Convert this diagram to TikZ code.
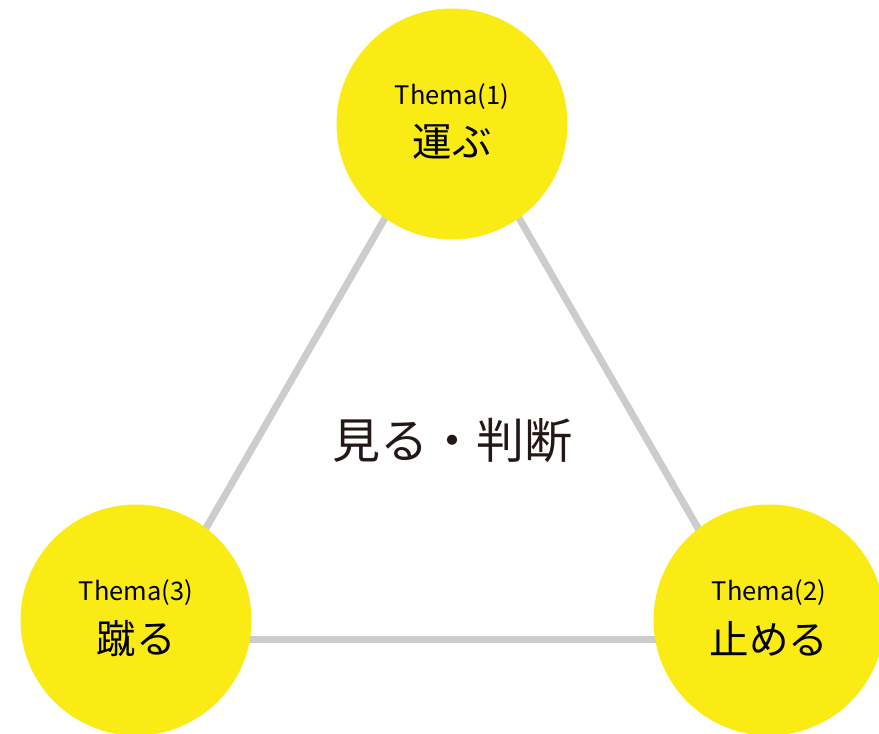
\documentclass[tikz,border=0pt]{standalone}
\usepackage{fontspec}
\setmainfont{Noto Sans CJK JP}
\newfontfamily\jpfont{Noto Sans CJK JP}
\definecolor{themeyellow}{HTML}{FAEB14}
\definecolor{linegray}{HTML}{CCCCCC}
\definecolor{textdark}{HTML}{231815}
\begin{document}
\begin{tikzpicture}[x=1pt,y=-1pt,
  topic/.style={circle,fill=themeyellow,draw=none,minimum size=231pt,inner sep=0pt},
  linkline/.style={draw=linegray,line width=7pt},
  themelabel/.style={font=\jpfont\fontsize{25.5}{30}\selectfont,text=black,inner sep=0pt},
  jplabel/.style={font=\jpfont\fontsize{39.5}{46}\selectfont,text=black,inner sep=0pt},
  centerlabel/.style={font=\jpfont\fontsize{48}{56}\selectfont,text=textdark,inner sep=0pt}]
\useasboundingbox[fill=white] (0,0) rectangle (879,734);
\coordinate (va) at (452,102);
\coordinate (vb) at (142,639);
\coordinate (vc) at (762,639);
\draw[linkline] (va) -- (vb);
\draw[linkline] (va) -- (vc);
\draw[linkline] (vb) -- (vc);
\node[topic] (c1) at (452,124) {};
\node[topic] (c3) at (136,620) {};
\node[topic] (c2) at (769,620) {};
\node[themelabel] (t1) at (452,97) {Thema(1)};
\node[jplabel] (j1) at (452,142) {運ぶ};
\node[themelabel] (t3) at (136,593) {Thema(3)};
\node[jplabel] (j3) at (136,639) {蹴る};
\node[themelabel] (t2) at (769,593) {Thema(2)};
\node[jplabel] (j2) at (769,639) {止める};
\node[centerlabel] (mid) at (452,440) {見る・判断};
\end{tikzpicture}
\end{document}
